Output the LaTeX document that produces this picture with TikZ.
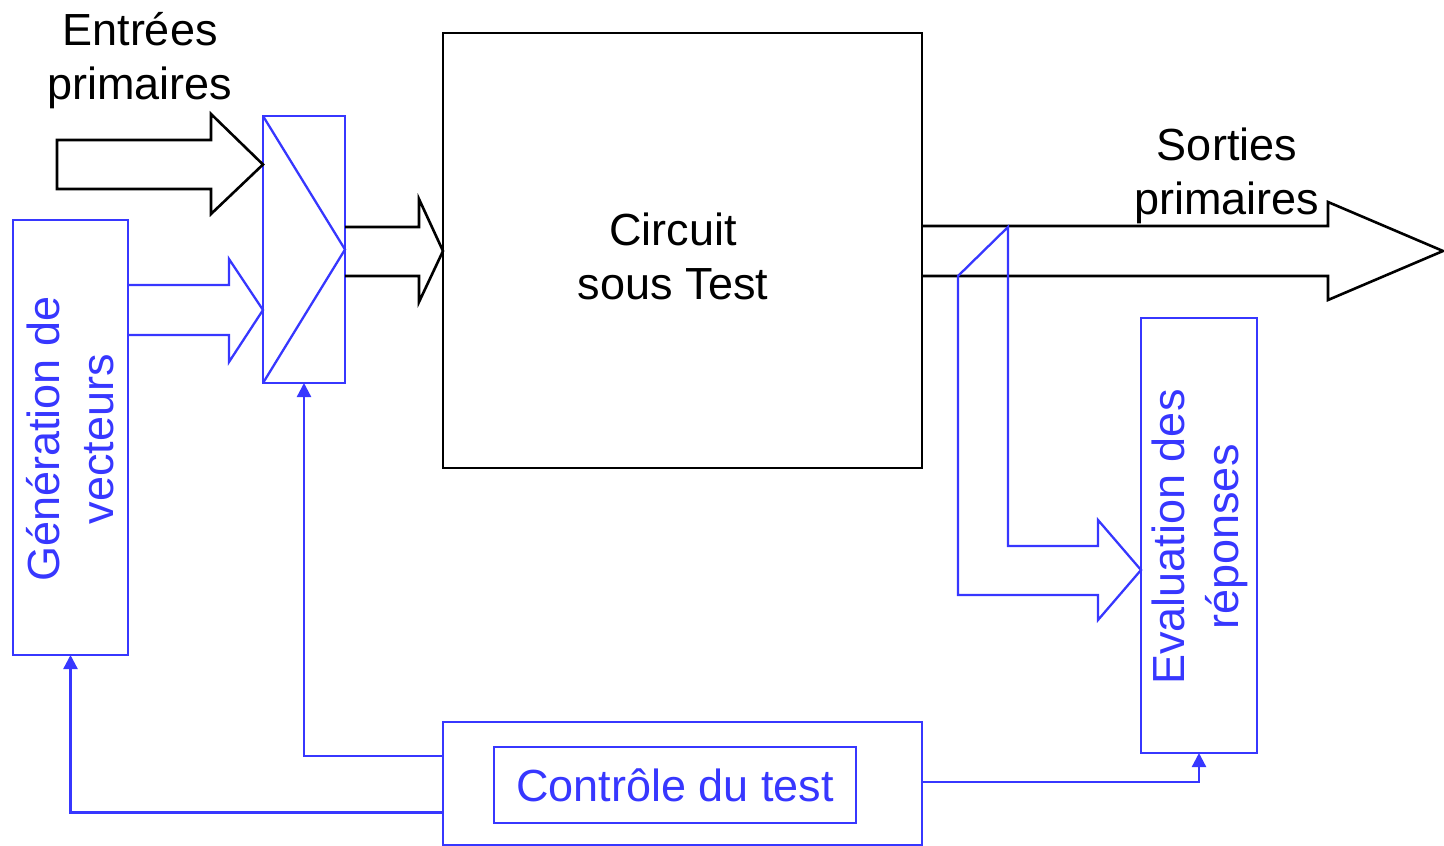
\documentclass[tikz,border=0pt]{standalone}
\usepackage{fontspec}
\setmainfont{Liberation Sans}
\usetikzlibrary{arrows.meta}
\definecolor{ctrlblue}{RGB}{55,55,255}
\tikzset{
  blk/.style={draw=black, line width=2.6pt},
  bl/.style={draw=ctrlblue, line width=2.3pt},
  box/.style={inner sep=0pt, outer sep=0pt},
  lbl/.style={font=\fontsize{45}{54}\selectfont, align=center, inner sep=0pt},
  ctl/.style={bl, -{Triangle[length=14pt,width=14pt]}}
}
\begin{document}
\begin{tikzpicture}[x=1pt,y=-1pt]
\useasboundingbox (0,0) rectangle (1444,846);

% blocks
\node[box, blk, minimum width=479pt, minimum height=435pt] (cut) at (682.5,250.5) {};
\node[box, bl, minimum width=82pt, minimum height=267pt] (mux) at (304,249.5) {};
\node[box, bl, minimum width=115pt, minimum height=435pt] (gen) at (70.5,437.5) {};
\node[box, bl, minimum width=116pt, minimum height=435pt] (eval) at (1199,535.5) {};
\node[box, bl, minimum width=479pt, minimum height=123pt] (ctrl) at (682.5,783.5) {};
\node[box, bl, minimum width=362pt, minimum height=76pt] (ctrlin) at (675,785) {};

% multiplexer symbol
\draw[bl] (mux.north west) -- (mux.east) -- (mux.south west);

% texts
\node[lbl] (tin) at (140,61) {Entrées\\primaires};
\node[lbl] (tout) at (1227,176) {Sorties\\primaires};
\node[lbl] (tcut) at (673,256) {Circuit\\sous Test};
\node[lbl, text=ctrlblue, rotate=90] (tgen) at (70.5,439) {Génération de\\vecteurs};
\node[lbl, text=ctrlblue, rotate=90] (teval) at (1200,537) {Evaluation des\\réponses};
\node[lbl, text=ctrlblue] (tctrl) at (ctrlin.center) {Contrôle du test};

% primary inputs
\draw[blk] (57,140) -- (211,140) -- (211,114) -- (mux.west |- 0,164.5) -- (211,214)
  -- (211,189) -- (57,189) -- cycle;
% test vectors into the multiplexer
\draw[bl] (gen.east |- 0,285) -- (229,285) -- (229,259) -- (mux.west |- 0,310)
  -- (229,362) -- (229,335) -- (gen.east |- 0,335);
% multiplexer to circuit
\draw[blk] (mux.east |- 0,227) -- (419,227) -- (419,199) -- (cut.west |- 0,251)
  -- (419,302) -- (419,276) -- (mux.east |- 0,276);
% primary outputs
\draw[blk] (cut.east |- 0,226) -- (1328,226) -- (1328,202) -- (1443,251)
  -- (1328,300) -- (1328,276) -- (cut.east |- 0,276);
% outputs tapped towards response evaluation
\draw[bl] (1008,227) -- (1008,546) -- (1098,546) -- (1098,520) -- (eval.west |- 0,570)
  -- (1098,620) -- (1098,595) -- (958,595) -- (958,276) -- cycle;

% control lines
\draw[ctl] ([yshift=27.5pt]ctrl.west) -| (mux.south);
\draw[ctl] ([yshift=-29pt]ctrl.west) -| (gen.south);
\draw[ctl] ([yshift=1.5pt]ctrl.east) -| (eval.south);
\end{tikzpicture}
\end{document}
